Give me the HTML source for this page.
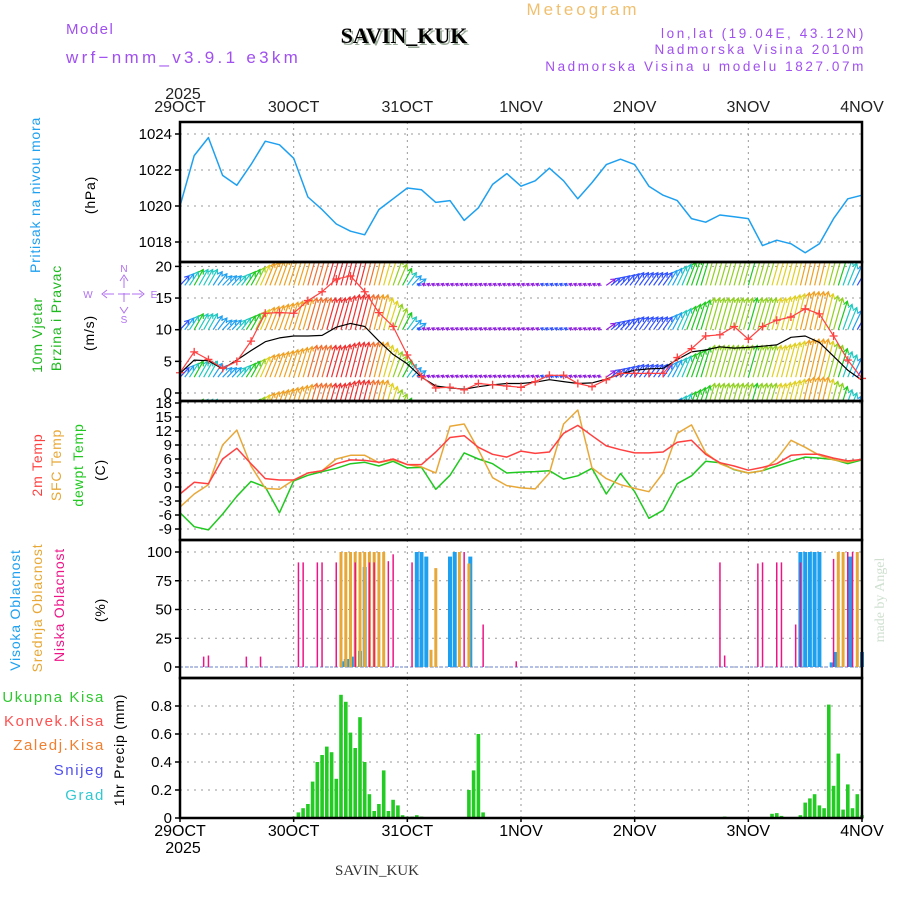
<!DOCTYPE html>
<html><head><meta charset="utf-8"><style>
body{margin:0;background:#fff}
svg{display:block;font-family:"Liberation Sans",sans-serif}
</style></head><body>
<svg id="c" width="900" height="900" viewBox="0 0 900 900"></svg>
<script>
// ---- data (3-hourly, hours 0..144) ----
const hours3 = [0,3,6,9,12,15,18,21,24,27,30,33,36,39,42,45,48,51,54,57,60,63,66,69,72,75,78,81,84,87,90,93,96,99,102,105,108,111,114,117,120,123,126,129,132,135,138,141,144];
const pressure = [1020.0,1022.8,1023.8,1021.7,1021.15,1022.3,1023.6,1023.4,1022.65,1020.5,1019.8,1019.0,1018.6,1018.4,1019.8,1020.4,1021.0,1020.9,1020.2,1020.3,1019.2,1019.9,1021.2,1021.8,1021.1,1021.4,1022.1,1021.4,1020.4,1021.3,1022.3,1022.6,1022.3,1021.1,1020.6,1020.3,1019.3,1019.1,1019.5,1019.4,1019.3,1017.8,1018.1,1017.9,1017.4,1017.9,1019.3,1020.4,1020.6];
const gustSpeed = [3.2,6.5,5.3,3.9,5,8.2,12.6,12.7,12.6,14.6,16,18,18.5,16,12.7,10.5,6,2.6,0.8,0.9,0.5,1.5,1.3,1.1,0.9,1.8,2.8,2.8,1.5,1,2.1,3.1,3.1,3.1,3.1,5.6,7,9,9.2,10.5,8.5,10.5,11.5,12,13.3,12.5,9,5.2,2.3];
const meanSpeed = [3.1,5.2,5.1,3.8,5.2,6.7,8.1,8.7,9,9,9.1,10.4,11,10.5,8.2,6.1,4.6,2.5,1.1,0.8,0.6,1,1.3,1.5,1.5,1.7,2.1,1.8,1.5,1.6,2.2,3,3.6,3.8,3.9,5.3,6.5,6.8,7.3,7.1,7.2,7.4,7.6,8.8,9,8,5.8,3.6,2];
const arrowExtent = [1.5,2.5,2.5,1.5,1.5,2.5,3.5,4,4.5,5,5,5,5.5,5.5,5.5,4,2,0.5,0.3,0.3,0.3,0.3,0.3,0.3,0.3,0.3,0.3,0.3,0.3,0.3,1,1.5,2,2,2,3,4,5,5,5,5,5,5,5.5,6,6,5,3.5,2];
const arrowBases = [17,10,2.5,-3.5];
const temp2m = [-1.5,1.0,0.7,6,8.3,5,1.8,1.5,1.5,3,3.5,5,5.8,5.7,5.3,6,4.8,4.8,7.5,10.6,11,8.5,7,6.4,7.7,7.2,7.5,11.5,13.2,11,8.8,8,7.3,7.3,7.5,9.6,10,7,5.2,4.5,3.6,4.2,5,6.8,7,7,6.2,5.6,5.9];
const tempSfc = [-4.3,-1.5,0.5,9,12.2,4.5,-0.3,-0.5,1.5,3,3.5,6,6.8,6.8,5.2,5.8,4.8,4.3,3,13,13.5,8,2,0.3,-0.2,-0.4,3,13.5,16.5,4.1,1.8,0.5,-0.3,-1,3,11.5,13.3,7.3,5,3.8,3,3.5,6,10,8.5,6.8,5.8,5.3,6];
const dewpoint = [-5.5,-8.5,-9.2,-5.8,-2,1.2,0,-5.5,1.3,2.5,3.3,4,5,5.3,4.5,5.5,4.1,4.2,-0.5,2.5,7.3,6,5,3,3.2,3.3,3.5,1.7,2.4,4,-1.5,2.9,-1,-6.7,-5,0.7,2.4,5.5,5.2,3.7,3,3.5,4.5,5.5,6.4,6.2,5.9,5,5.8];
// cloud cover (hour index, percent)
const lowHours = [5,6,14,17,25,26,29,30,33,37,40,41,44,45,49,60,64,71,114,115,122,123,126,127,130,131,138,141,142];
const lowValues = [9,10,9,9,91,91,91,91,91,91,91,91,92,98,91,100,37,5,91,10,90,91,91,91,37,91,94,100,100];
const midHours = [34,35,36,37,38,39,40,41,42,43,53,54,59,61,139,140,143];
const midValues = [100,100,100,100,100,100,100,100,100,100,15,86,100,90,100,100,100];
const highHours = [34.3,35,35.8,36.5,38,39,50,51,52,57,58,61.3,131,132,133,134,135,137.6,138.5,141.5,144];
const highValues = [5,7,7,9,14,87,100,100,96,96,100,96,100,100,100,100,100,4,13,96,13];
// precipitation (hour index, mm)
const precipHours = [24,25,26,27,28,29,30,31,32,33,34,35,36,37,38,39,40,41,42,43,44,45,46,47,48,49,50,51,61,62,63,64,115,125,126,127,128,131,132,133,134,135,136,137,138,139,140,141,142,143,144];
const precipValues = [0.01,0.04,0.07,0.1,0.26,0.4,0.45,0.51,0.47,0.28,0.88,0.83,0.61,0.5,0.72,0.4,0.17,0.05,0.1,0.34,0.05,0.13,0.09,0.02,0.01,0.01,0.02,0.01,0.2,0.34,0.6,0.04,0.01,0.03,0.035,0.015,0.005,0.02,0.11,0.14,0.17,0.09,0.07,0.81,0.23,0.46,0.06,0.24,0.07,0.17,0.02];
const dayLabels = ["29OCT","30OCT","31OCT","1NOV","2NOV","3NOV","4NOV"];
const pTicks = [1018,1020,1022,1024];
const wTicks = [0,5,10,15,20];
const tTicks = [-9,-6,-3,0,3,6,9,12,15,18];
const cTicks = [0,25,50,75,100];
const rTicks = [0,0.2,0.4,0.6,0.8];

// ---- layout ----
const X0=180, X1=862, HMAX=144;
const xh = h => X0 + (X1-X0)*h/HMAX;
const yP = p => 134 + (1024-p)*18;
const yW = v => 393 - v*6.33;
const yT = t => 403 + (18-t)*4.667;
const yC = c => 667 - c*1.15;
const yR = r => 818 - r*140;
const panels = [[122,262,'pressure-panel'],[262,401,'wind-panel'],[401,540,'temperature-panel'],[540,678,'cloud-panel'],[678,818,'precip-panel']];

const NS="http://www.w3.org/2000/svg", svg=document.getElementById('c');
function mk(tag, at, parent){const e=document.createElementNS(NS,tag);for(const k in at)e.setAttribute(k,at[k]);(parent||svg).appendChild(e);return e;}
function txt(s,x,y,o){const e=mk('text',Object.assign({x:x,y:y,'font-size':14,fill:'#000'},o||{}));e.textContent=s;return e;}

panels.forEach(p=>{
  const g=mk('g',{});
  
  
  for(let d=1;d<6;d++){mk('line',{x1:xh(d*24),x2:xh(d*24),y1:p[0],y2:p[1],stroke:'#999','stroke-dasharray':'2,4','stroke-width':1},g);}
});
function hgrid(ticks, yf, name){
  ticks.forEach(t=>{
    const l=mk('line',{x1:X0,x2:X1,y1:yf(t),y2:yf(t),stroke:'#999','stroke-dasharray':'2,5'});
    
    
    mk('line',{x1:X0-5,x2:X0,y1:yf(t),y2:yf(t),stroke:'#000','stroke-width':1.5});
    const tl=txt(String(t),X0-8,yf(t)+5,{'text-anchor':'end','font-size':15});
    
    
  });
}
hgrid(pTicks,yP,'pressure');hgrid(wTicks,yW,'wind');hgrid(tTicks,yT,'temp');hgrid(cTicks,yC,'cloud');hgrid(rTicks,yR,'precip');

function line(vals, yf, color, name, w){
  const pts=vals.map((v,i)=>xh(hours3[i]).toFixed(1)+','+yf(v).toFixed(1)).join(' ');
  const e=mk('polyline',{points:pts,fill:'none',stroke:color,'stroke-width':w||1.5,'stroke-linejoin':'round'});
  
  
  return e;
}
line(pressure,yP,'#1ea0f0','pressure-line');

// wind arrows
const clipW=mk('clipPath',{id:'cw'});mk('rect',{x:X0,y:262,width:X1-X0,height:139},clipW);
const gA=mk('g',{'clip-path':'url(#cw)'});


function spdColor(v){
  if(v<2.2) return '#9020e0'; if(v<3.5) return '#3050ff'; if(v<5) return '#20a0f0';
  if(v<6.5) return '#20c8c0'; if(v<9) return '#20c820'; if(v<11) return '#90d020';
  if(v<12.5) return '#e0d020'; if(v<14.5) return '#f0a020'; if(v<16.5) return '#f07030'; return '#f03030';
}
function interp(arr,h){const i=Math.min(Math.floor(h/3),arr.length-2);const f=(h-hours3[i])/3;return arr[i]*(1-f)+arr[i+1]*f;}
for(let h=0;h<=HMAX;h++){
  const ext=interp(arrowExtent,h), sp=interp(gustSpeed,h), col=spdColor(sp);
  arrowBases.forEach(b=>{
    const x=xh(h), y=yW(b);
    const weak = ext<0.8;
    const dy=weak ? 1.5 : ext*6.33, dx= weak ? -4 : 9;
    const x2=x+dx, y2=y-dy;
    mk('line',{x1:x,y1:y,x2:x2,y2:y2,stroke:col,'stroke-width':1.2},gA);
    const ang=Math.atan2(y2-y,x2-x);
    const a1=ang+2.6,a2=ang-2.6, hl=weak?3:5;
    mk('polyline',{points:`${x2+hl*Math.cos(a1)},${y2+hl*Math.sin(a1)} ${x2},${y2} ${x2+hl*Math.cos(a2)},${y2+hl*Math.sin(a2)}`,fill:'none',stroke:col,'stroke-width':1.2},gA);
  });
}
line(meanSpeed,yW,'#000','mean-wind-line',1.2);
line(gustSpeed,yW,'#ff4040','gust-wind-line',1.2);
gustSpeed.forEach((v,i)=>{
  const x=xh(hours3[i]), y=yW(v);
  const m=mk('path',{d:`M${x-4},${y}H${x+4}M${x},${y-4}V${y+4}`,stroke:'#ff4040','stroke-width':1.3});
  
  
});

line(dewpoint,yT,'#20c820','dewpoint-line');
line(tempSfc,yT,'#e8a838','sfc-temp-line');
line(temp2m,yT,'#ff4040','temp-2m-line');

mk('line',{x1:X0,x2:X1,y1:yC(0),y2:yC(0),stroke:'#9ad','stroke-width':1.5,'stroke-dasharray':'3,2'});
function bars(hs, vs, yf, color, w, name){
  hs.forEach((h,i)=>{
    const x=xh(h), y=yf(vs[i]);
    const r=mk('rect',{x:(x-w/2).toFixed(1),y:y.toFixed(1),width:w,height:(yf(0)-y).toFixed(1),fill:color});
    
    
  });
}
bars(highHours,highValues,yC,'#1ea0f0',4,'high-cloud-bar');
bars(midHours,midValues,yC,'#e8a838',3,'mid-cloud-bar');
bars(lowHours,lowValues,yC,'#ee1488',1.5,'low-cloud-bar');
bars(precipHours,precipValues,yR,'#22cc22',3.6,'precip-bar');

panels.forEach(p=>{mk('rect',{x:X0,y:p[0],width:X1-X0,height:p[1]-p[0],fill:'none',stroke:'#000','stroke-width':2.5});});
dayLabels.forEach((d,i)=>{
  const a=txt(d,xh(i*24),112,{'text-anchor':'middle','font-size':16,fill:'#222'});
  
  
  const b=txt(d,xh(i*24),836,{'text-anchor':'middle','font-size':16,fill:'#000'});
  
  
  mk('line',{x1:xh(i*24),x2:xh(i*24),y1:818,y2:822,stroke:'#000','stroke-width':1.5});
});
txt('2025',183,99,{'text-anchor':'middle','font-size':16,fill:'#222'});
txt('2025',183,853,{'text-anchor':'middle','font-size':16});

function vtxt(s,x,y,col,size,name){const e=txt(s,x,y,{fill:col,'font-size':size||14,'text-anchor':'middle','letter-spacing':'0.8',transform:`rotate(-90 ${x} ${y})`});return e;}
vtxt('Pritisak na nivou mora',40,195,'#1ea0f0',14,'pressure-title');
vtxt('(hPa)',95,195,'#000',14,'pressure-unit');
vtxt('10m Vjetar',42,335,'#20b820',14,'wind-title');
vtxt('Brzina i Pravac',61,318,'#20b820',14,'wind-subtitle');
vtxt('(m/s)',94,333,'#000',14,'wind-unit');
vtxt('2m Temp',42,465,'#ff4040',14,'temp-2m-label');
vtxt('SFC Temp',61,465,'#e8a838',14,'sfc-temp-label');
vtxt('dewpt Temp',83,465,'#20c820',14,'dewpoint-label');
vtxt('(C)',105,470,'#000',14,'temp-unit');
vtxt('Visoka Oblacnost',20,610,'#1ea0f0',14,'high-cloud-label');
vtxt('Srednja Oblacnost',42,608,'#e8a838',14,'mid-cloud-label');
vtxt('Niska Oblacnost',64,605,'#ee1488',14,'low-cloud-label');
vtxt('(%)',105,610,'#000',14,'cloud-unit');
vtxt('1hr Precip (mm)',124,750,'#000',14,'precip-unit');
[['Ukupna Kisa','#30c830',702,'total-rain-legend'],['Konvek.Kisa','#ff5050',726,'convective-rain-legend'],['Zaledj.Kisa','#f08030',750,'freezing-rain-legend'],['Snijeg','#5050f0',775,'snow-legend'],['Grad','#30c8d0',800,'hail-legend']].forEach(l=>{
  const e=txt(l[0],105,l[2],{'text-anchor':'end',fill:l[1],'font-size':15,'letter-spacing':'1.6'});
  
  
});
const cg=mk('g',{stroke:'#b070f0','stroke-width':1,fill:'none'});


mk('path',{d:'M124,278V288M124,293V302M104,294H114M118,294H130M132,294H142M120,281L124,275L128,281M120,307L124,313L128,307M107,290L102,294L107,298M139,290L144,294L139,298'},cg);
txt('N',124,272,{'text-anchor':'middle','font-size':10,fill:'#b070f0'});
txt('S',124,323,{'text-anchor':'middle','font-size':10,fill:'#b070f0'});
txt('W',88,298,{'text-anchor':'middle','font-size':10,fill:'#b070f0'});
txt('E',154,298,{'text-anchor':'middle','font-size':10,fill:'#b070f0'});

const h1=txt('Model',66,34,{fill:'#a050f0','font-size':15,'letter-spacing':'1.5'});
const h2=txt('wrf\u2212nmm_v3.9.1 e3km',66,63,{fill:'#a050f0','font-size':17,'letter-spacing':'3.3'});
txt('SAVIN_KUK',406,45,{'text-anchor':'middle','font-size':22,'font-weight':'bold','font-family':'Liberation Serif, serif',fill:'#9a9'});
const h3=txt('SAVIN_KUK',404,43,{'text-anchor':'middle','font-size':22,'font-weight':'bold','font-family':'Liberation Serif, serif',fill:'#000'});
const h4=txt('Meteogram',583,15,{'text-anchor':'middle','font-size':17,fill:'#f0c070','letter-spacing':'3'});
[['lon,lat (19.04E, 43.12N)',38],['Nadmorska Visina 2010m',54],['Nadmorska Visina u modelu 1827.07m',71]].forEach((t,i)=>{
  const e=txt(t[0],866,t[1],{'text-anchor':'end',fill:'#a050f0','font-size':13.5,'letter-spacing':'2.6'});
  
  
});
const f1=txt('SAVIN_KUK',377,875,{'text-anchor':'middle','font-size':15,'font-family':'Liberation Serif, serif',fill:'#333'});
const f2=txt('made by Angel',884,600,{'text-anchor':'middle','font-size':14,'font-family':'Liberation Serif, serif',fill:'#cfe0d0',transform:'rotate(-90 884 600)'});
</script>
</body></html>
